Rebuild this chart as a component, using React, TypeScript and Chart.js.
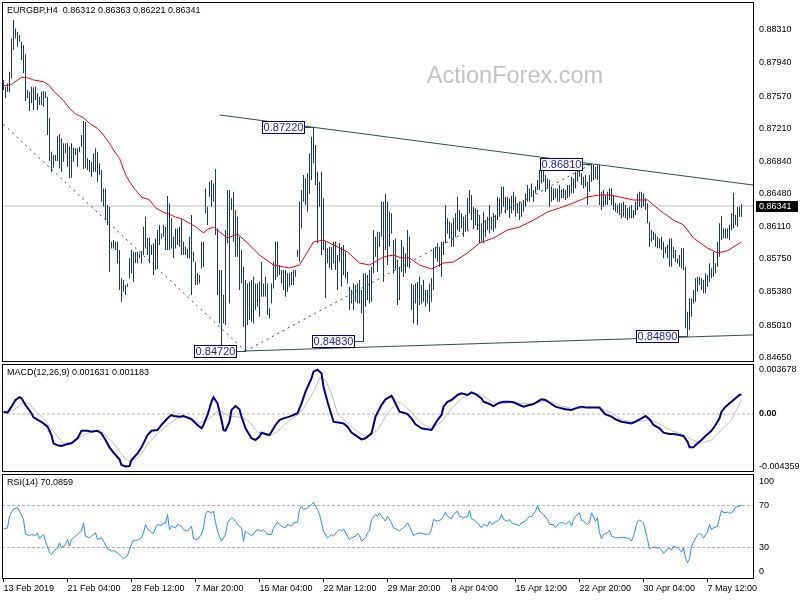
import React, { useEffect, useRef } from "react";
import { Chart, registerables } from "chart.js";

Chart.register(...registerables);

const FONT = '"Liberation Sans", Arial, Helvetica, sans-serif';

// ---------------- data ----------------
const symbolTitle = "EURGBP,H4  0.86312 0.86363 0.86221 0.86341";
const macdTitle = "MACD(12,26,9) 0.001631 0.001183";
const rsiTitle = "RSI(14) 70.0859";
const watermarkText = "ActionForex.com";
const lastPrice = 0.86341;

const highs = [
  0.8775, 0.87675, 0.87712, 0.87843, 0.88215, 0.8842, 0.88327, 0.8829, 0.88253, 0.88178,
  0.88141, 0.88037, 0.87638, 0.87619, 0.87675, 0.87667, 0.87675, 0.87601, 0.87563, 0.87619,
  0.87627, 0.87619, 0.87563, 0.87321, 0.86948, 0.86912, 0.86912, 0.87127, 0.87142, 0.87097,
  0.87042, 0.87042, 0.87042, 0.87004, 0.87042, 0.86993, 0.86986, 0.86986, 0.87004, 0.87135,
  0.87291, 0.87284, 0.86874, 0.86856, 0.86837, 0.8693, 0.86986, 0.86948, 0.86818, 0.86743,
  0.86538, 0.86538, 0.86352, 0.86333, 0.85942, 0.85961, 0.85942, 0.85942, 0.85849, 0.85532,
  0.85513, 0.85457, 0.85476, 0.85756, 0.85849, 0.8583, 0.85823, 0.8583, 0.85811, 0.85837,
  0.8611, 0.86222, 0.85987, 0.85987, 0.85904, 0.85923, 0.85979, 0.86073, 0.86129, 0.86035,
  0.86129, 0.8611, 0.86452, 0.86371, 0.86203, 0.85998, 0.86091, 0.86091, 0.8611, 0.86196,
  0.85942, 0.85886, 0.85867, 0.85998, 0.8624, 0.8583, 0.85719, 0.85588, 0.8557, 0.85942,
  0.85942, 0.86538, 0.86333, 0.86613, 0.86632, 0.86594, 0.86751, 0.86091, 0.85625, 0.85625,
  0.85346, 0.86072, 0.8652, 0.8652, 0.86427, 0.86501, 0.86296, 0.86222, 0.85998, 0.85849,
  0.85663, 0.85514, 0.85476, 0.85495, 0.85514, 0.85551, 0.85476, 0.85476, 0.85495, 0.85719,
  0.85476, 0.85551, 0.85476, 0.85197, 0.85476, 0.85719, 0.85942, 0.85942, 0.85681, 0.85625,
  0.85625, 0.85625, 0.85588, 0.85588, 0.85607, 0.85625, 0.85625, 0.85849, 0.86389, 0.8652,
  0.86688, 0.8665, 0.86706, 0.8693, 0.87116, 0.8722, 0.87023, 0.86725, 0.86613, 0.86725,
  0.86427, 0.85942, 0.85868, 0.85886, 0.85886, 0.85942, 0.85942, 0.85793, 0.85924, 0.85886,
  0.85905, 0.8583, 0.85607, 0.85439, 0.85402, 0.85476, 0.85458, 0.85476, 0.85514, 0.85402,
  0.85588, 0.85588, 0.8557, 0.85625, 0.85663, 0.86072, 0.85998, 0.86054, 0.86054, 0.86389,
  0.86389, 0.86482, 0.86389, 0.86277, 0.86259, 0.85961, 0.85979, 0.85737, 0.85663, 0.85961,
  0.85886, 0.85812, 0.86072, 0.85998, 0.85476, 0.85458, 0.85476, 0.85495, 0.85551, 0.85458,
  0.85514, 0.85402, 0.85402, 0.85476, 0.85532, 0.85868, 0.85886, 0.85924, 0.85886, 0.85942,
  0.85942, 0.86352, 0.86203, 0.86166, 0.86147, 0.86203, 0.86259, 0.86445, 0.86296, 0.86259,
  0.86222, 0.8624, 0.86427, 0.8652, 0.86464, 0.86333, 0.86315, 0.86296, 0.8624, 0.86147,
  0.86277, 0.86184, 0.86222, 0.86352, 0.86222, 0.86259, 0.8624, 0.86445, 0.86427, 0.86557,
  0.86557, 0.86445, 0.86445, 0.86427, 0.86453, 0.86501, 0.86445, 0.86371, 0.86389, 0.86371,
  0.86408, 0.86482, 0.86576, 0.86538, 0.86594, 0.8652, 0.86557, 0.86632, 0.86743, 0.8678,
  0.86762, 0.86688, 0.8665, 0.86632, 0.86557, 0.86538, 0.86538, 0.86538, 0.86576, 0.86527,
  0.86538, 0.8652, 0.86576, 0.86576, 0.86669, 0.8665, 0.86725, 0.86762, 0.86799, 0.86706,
  0.86669, 0.86688, 0.86613, 0.86688, 0.8681, 0.86799, 0.86781, 0.86799, 0.868, 0.86501,
  0.8652, 0.86464, 0.86501, 0.86538, 0.86538, 0.86464, 0.86371, 0.86352, 0.86371, 0.86371,
  0.86389, 0.86352, 0.86315, 0.86333, 0.86352, 0.86296, 0.86389, 0.86482, 0.86501, 0.86501,
  0.86482, 0.86427, 0.86371, 0.86166, 0.86072, 0.86054, 0.86035, 0.85998, 0.85979, 0.85998,
  0.85942, 0.85886, 0.85905, 0.85979, 0.85979, 0.85886, 0.85849, 0.85756, 0.85793, 0.85868,
  0.85868, 0.85663, 0.85159, 0.85309, 0.85309, 0.85402, 0.85532, 0.85551, 0.85551, 0.85532,
  0.85514, 0.85588, 0.8557, 0.857, 0.85644, 0.8583, 0.857, 0.85942, 0.86147, 0.86229,
  0.86091, 0.86091, 0.86091, 0.86128, 0.86259, 0.8649, 0.8624, 0.86333, 0.86333, 0.86363,
];

const lows = [
  0.87638, 0.87545, 0.87619, 0.87612, 0.87768, 0.88085, 0.88215, 0.88122, 0.88178, 0.87973,
  0.87824, 0.87515, 0.87545, 0.87403, 0.87489, 0.87414, 0.87526, 0.87414, 0.8747, 0.8747,
  0.87451, 0.87545, 0.87135, 0.86844, 0.86725, 0.86769, 0.86848, 0.86844, 0.86762, 0.86725,
  0.86837, 0.8693, 0.86781, 0.8665, 0.86657, 0.86837, 0.86912, 0.86781, 0.86941, 0.87004,
  0.86755, 0.86762, 0.86743, 0.86725, 0.86669, 0.86725, 0.86725, 0.86613, 0.86687, 0.86389,
  0.86333, 0.86185, 0.86129, 0.85607, 0.85867, 0.85867, 0.85849, 0.857, 0.85402, 0.85271,
  0.85383, 0.85346, 0.85439, 0.85532, 0.85588, 0.85495, 0.857, 0.857, 0.85756, 0.857,
  0.85793, 0.85867, 0.85793, 0.857, 0.85793, 0.85569, 0.85625, 0.85644, 0.85904, 0.85979,
  0.85998, 0.85849, 0.85849, 0.85849, 0.85867, 0.85756, 0.85867, 0.85904, 0.85886, 0.85793,
  0.85793, 0.85793, 0.85756, 0.85756, 0.85346, 0.85719, 0.85458, 0.85458, 0.85476, 0.85644,
  0.85663, 0.86259, 0.86128, 0.86445, 0.86333, 0.86389, 0.86017, 0.85346, 0.85028, 0.84787,
  0.85028, 0.8501, 0.85924, 0.85252, 0.86296, 0.85942, 0.85775, 0.85775, 0.85402, 0.85476,
  0.84991, 0.8472, 0.8501, 0.85066, 0.85047, 0.85028, 0.85178, 0.85215, 0.85103, 0.85327,
  0.85327, 0.85327, 0.85122, 0.85085, 0.85252, 0.8542, 0.85514, 0.85551, 0.8557, 0.85476,
  0.85402, 0.85327, 0.85383, 0.85439, 0.85458, 0.85458, 0.85551, 0.85775, 0.85719, 0.86091,
  0.86389, 0.86352, 0.86277, 0.86482, 0.86632, 0.86818, 0.86576, 0.85924, 0.86333, 0.85793,
  0.85849, 0.85309, 0.857, 0.85644, 0.85625, 0.857, 0.85625, 0.85402, 0.85719, 0.85439,
  0.8557, 0.85532, 0.85476, 0.85178, 0.85252, 0.85178, 0.85271, 0.85252, 0.85252, 0.85141,
  0.8483, 0.85215, 0.8529, 0.85252, 0.85271, 0.85588, 0.85775, 0.85607, 0.85886, 0.85998,
  0.85495, 0.85849, 0.85681, 0.85886, 0.86035, 0.85588, 0.85625, 0.85234, 0.8529, 0.85607,
  0.85551, 0.85588, 0.85663, 0.85644, 0.85178, 0.85028, 0.85252, 0.8501, 0.85234, 0.85252,
  0.85271, 0.85215, 0.85252, 0.85159, 0.85271, 0.85402, 0.85756, 0.85719, 0.85663, 0.85551,
  0.85793, 0.85924, 0.86035, 0.85979, 0.85886, 0.85886, 0.85998, 0.86072, 0.86054, 0.86091,
  0.85998, 0.86054, 0.86072, 0.86259, 0.86184, 0.86091, 0.86128, 0.86072, 0.85924, 0.85942,
  0.85924, 0.85998, 0.86072, 0.86035, 0.86072, 0.86054, 0.86091, 0.86184, 0.86222, 0.86259,
  0.86333, 0.86259, 0.86296, 0.86203, 0.86259, 0.86296, 0.86222, 0.86259, 0.86184, 0.86222,
  0.86277, 0.86333, 0.86389, 0.86389, 0.86445, 0.86389, 0.86482, 0.8652, 0.8652, 0.86594,
  0.86613, 0.86501, 0.86538, 0.86333, 0.86389, 0.86408, 0.86427, 0.86389, 0.86389, 0.86427,
  0.86427, 0.86408, 0.86427, 0.86445, 0.86482, 0.86482, 0.86538, 0.86613, 0.86669, 0.86576,
  0.86538, 0.86557, 0.86352, 0.86501, 0.86613, 0.86632, 0.8665, 0.86632, 0.86352, 0.86296,
  0.86333, 0.86352, 0.86352, 0.86408, 0.86352, 0.86296, 0.86277, 0.86259, 0.8624, 0.86203,
  0.86222, 0.86203, 0.86184, 0.86203, 0.86203, 0.86203, 0.8624, 0.86296, 0.86333, 0.86315,
  0.86333, 0.86296, 0.86147, 0.85886, 0.85942, 0.85961, 0.85886, 0.85868, 0.85868, 0.85849,
  0.85756, 0.85812, 0.85756, 0.85663, 0.85663, 0.85756, 0.85719, 0.857, 0.85663, 0.85644,
  0.85625, 0.84973, 0.8489, 0.84955, 0.85103, 0.85252, 0.85271, 0.85383, 0.85458, 0.85402,
  0.85365, 0.85365, 0.85439, 0.85495, 0.85532, 0.85551, 0.85588, 0.85663, 0.85775, 0.85961,
  0.85979, 0.85979, 0.85979, 0.85961, 0.86072, 0.86091, 0.86128, 0.8611, 0.86222, 0.86221,
];

// moving average (red)
const maIdx = [0, 4, 9, 12, 15, 20, 23, 25, 30, 33, 36, 40, 43, 47, 50, 53, 55, 58, 61, 63, 66, 69, 73, 76, 80, 83, 86, 89, 93, 96, 100, 102, 105, 108, 111, 112, 117, 122, 128, 135, 143, 148, 155, 160, 165, 172, 178, 183, 190, 195, 199, 203, 208, 214, 220, 225, 232, 238, 245, 252, 258, 265, 272, 278, 285, 292, 298, 303, 308, 315, 322, 328, 335, 340, 345, 352, 357, 362, 369];
const maVal = [0.87682, 0.87701, 0.8778, 0.87776, 0.8775, 0.87731, 0.87686, 0.87627, 0.87519, 0.87433, 0.8737, 0.87328, 0.87265, 0.87209, 0.87135, 0.87042, 0.86967, 0.86874, 0.86694, 0.86613, 0.8652, 0.86442, 0.86408, 0.86322, 0.8627, 0.86248, 0.86218, 0.86199, 0.86147, 0.8611, 0.86039, 0.8608, 0.86106, 0.86054, 0.85998, 0.85983, 0.86028, 0.85927, 0.85793, 0.85681, 0.85648, 0.85681, 0.85939, 0.85961, 0.85905, 0.85827, 0.85704, 0.85681, 0.85771, 0.85793, 0.8576, 0.8576, 0.85681, 0.85637, 0.85704, 0.85715, 0.85816, 0.85927, 0.85983, 0.86073, 0.86106, 0.86184, 0.86274, 0.86319, 0.86375, 0.86442, 0.86464, 0.86464, 0.86442, 0.86408, 0.86408, 0.86296, 0.86184, 0.86129, 0.85983, 0.85871, 0.85816, 0.85842, 0.85939];

// MACD main line
const macdIdx = [0, 2, 4, 6, 8, 9, 11, 14, 15, 18, 20, 22, 24, 25, 27, 29, 32, 34, 37, 39, 42, 44, 47, 49, 51, 53, 55, 58, 59, 61, 63, 64, 67, 69, 72, 74, 77, 79, 82, 84, 85, 88, 90, 93, 94, 97, 99, 100, 102, 104, 105, 107, 109, 110, 111, 113, 114, 116, 118, 119, 121, 123, 124, 126, 128, 129, 131, 133, 134, 136, 138, 140, 143, 145, 147, 149, 151, 154, 155, 157, 159, 160, 162, 164, 165, 168, 170, 172, 174, 177, 179, 181, 184, 186, 189, 191, 194, 195, 198, 200, 202, 204, 206, 209, 211, 214, 215, 217, 219, 220, 222, 224, 227, 229, 232, 234, 236, 239, 240, 243, 245, 248, 250, 253, 255, 258, 260, 263, 265, 267, 269, 271, 274, 276, 279, 281, 284, 286, 289, 292, 295, 298, 299, 301, 304, 306, 309, 312, 314, 316, 319, 321, 323, 325, 328, 330, 333, 335, 338, 340, 342, 343, 345, 347, 349, 351, 354, 356, 358, 359, 361, 364, 366, 368, 369];
const macdVal = [0.00019, 0.00011, 0.00061, 0.00116, 0.00139, 0.0013, 0.00075, 0.00006, -0.00028, -0.00058, -0.00078, -0.00105, -0.00175, -0.00244, -0.0026, -0.00266, -0.00249, -0.00244, -0.00202, -0.00139, -0.00139, -0.00147, -0.00139, -0.00161, -0.00216, -0.00277, -0.00321, -0.00377, -0.00424, -0.00436, -0.00432, -0.00382, -0.00327, -0.00277, -0.00175, -0.00139, -0.00133, -0.00091, -0.00036, -0.00008, -0.00017, -0.00022, -0.00017, -0.00036, -0.00044, -0.00091, -0.00119, -0.00091, -0.00008, 0.00102, 0.00139, 0.00089, -0.0005, -0.00133, -0.00139, -0.00064, 0.00033, 0.00066, 0.00039, -0.00022, -0.00119, -0.00175, -0.00202, -0.00216, -0.00188, -0.00155, -0.00166, -0.00175, -0.00147, -0.00091, -0.0005, -0.00036, -0.00022, -0.00008, 0.00006, 0.00089, 0.00186, 0.00296, 0.00352, 0.00368, 0.00338, 0.00227, 0.00102, -0.00008, -0.00064, -0.00072, -0.00078, -0.00105, -0.00155, -0.00188, -0.00211, -0.00202, -0.00161, -0.00022, 0.00075, 0.00122, 0.0015, 0.00122, 0.00019, 0.00011, 0, -0.00036, -0.00086, -0.00119, -0.00125, -0.00133, -0.00105, -0.0005, -0.00008, 0.00061, 0.00102, 0.00116, 0.00158, 0.00172, 0.00158, 0.0018, 0.00166, 0.0013, 0.00102, 0.00083, 0.00066, 0.00094, 0.00102, 0.00102, 0.00097, 0.00075, 0.00061, 0.00075, 0.00083, 0.00102, 0.00122, 0.00116, 0.00083, 0.00061, 0.00047, 0.00039, 0.00033, 0.00047, 0.00061, 0.00053, 0.00055, 0.00055, 0.00033, -0.00003, -0.00022, -0.00044, -0.00064, -0.00072, -0.00078, -0.00064, -0.00036, -0.00017, -0.00044, -0.00091, -0.00119, -0.00155, -0.00166, -0.00166, -0.00175, -0.00183, -0.0023, -0.00277, -0.00277, -0.00244, -0.00216, -0.00183, -0.00139, -0.00091, -0.00036, 0.00019, 0.00061, 0.00102, 0.0013, 0.00158, 0.00163];

// MACD signal line
const signalIdx = [0, 5, 10, 13, 15, 20, 25, 30, 35, 40, 45, 50, 55, 60, 63, 68, 73, 78, 83, 88, 93, 98, 103, 108, 113, 117, 122, 127, 132, 137, 142, 147, 150, 155, 158, 161, 164, 167, 172, 177, 182, 187, 192, 197, 199, 204, 209, 214, 219, 224, 229, 234, 239, 244, 249, 254, 259, 264, 269, 274, 279, 284, 289, 294, 299, 304, 309, 314, 319, 324, 329, 334, 339, 344, 349, 354, 359, 364, 369];
const signalVal = [0.00006, 0.00033, 0.00094, 0.00089, 0.00039, -0.00036, -0.00147, -0.00244, -0.0023, -0.00175, -0.00139, -0.00155, -0.00244, -0.00355, -0.00396, -0.00355, -0.0023, -0.00147, -0.00078, -0.00028, -0.00022, -0.00078, -0.00036, 0.00033, -0.00022, -0.00022, -0.0005, -0.00147, -0.00183, -0.00147, -0.00064, -0.00008, 0.00047, 0.00186, 0.00296, 0.00283, 0.00172, 0.00006, -0.00078, -0.00147, -0.00194, -0.00133, 0.00006, 0.00102, 0.00089, 0.00019, -0.00078, -0.00119, -0.00064, 0.00047, 0.0013, 0.00172, 0.00158, 0.00102, 0.00083, 0.00094, 0.00089, 0.00083, 0.00102, 0.00102, 0.00066, 0.00047, 0.00047, 0.00055, 0.00047, 0.00011, -0.00044, -0.00064, -0.00058, -0.0005, -0.00091, -0.00139, -0.00166, -0.00211, -0.00244, -0.00216, -0.00133, -0.0005, 0.00118];

// RSI(14)
const rsiIdx = [0, 2, 3, 5, 7, 8, 10, 11, 13, 14, 16, 17, 18, 20, 21, 23, 24, 25, 27, 28, 29, 31, 32, 33, 34, 36, 37, 39, 40, 41, 43, 44, 46, 47, 49, 50, 52, 54, 55, 57, 59, 60, 62, 63, 64, 65, 67, 69, 70, 71, 72, 74, 75, 76, 77, 79, 80, 81, 82, 83, 84, 86, 87, 89, 90, 92, 94, 95, 97, 99, 100, 101, 102, 104, 105, 106, 107, 109, 110, 111, 112, 114, 115, 116, 117, 119, 120, 121, 122, 124, 125, 126, 127, 129, 130, 132, 134, 135, 137, 138, 139, 141, 142, 144, 145, 147, 148, 149, 150, 152, 153, 154, 155, 157, 158, 159, 160, 162, 163, 164, 165, 167, 168, 169, 170, 172, 173, 174, 176, 177, 178, 179, 181, 182, 183, 184, 186, 187, 188, 189, 191, 192, 193, 194, 195, 197, 198, 199, 200, 202, 203, 205, 206, 208, 210, 212, 213, 214, 215, 217, 219, 220, 221, 222, 224, 225, 227, 228, 230, 232, 233, 234, 235, 237, 239, 240, 242, 243, 244, 246, 248, 249, 250, 252, 253, 254, 256, 258, 259, 261, 263, 264, 266, 267, 268, 270, 272, 273, 275, 276, 278, 280, 281, 283, 284, 285, 286, 288, 289, 290, 292, 293, 294, 296, 297, 298, 299, 300, 302, 303, 304, 306, 308, 309, 311, 313, 314, 315, 317, 318, 319, 320, 322, 323, 324, 325, 327, 328, 329, 330, 332, 333, 334, 335, 337, 338, 339, 340, 341, 342, 343, 344, 345, 347, 348, 349, 350, 352, 353, 354, 355, 357, 358, 359, 360, 362, 363, 365, 366, 367, 368, 369];
const rsiVal = [47.8, 48.7, 59.8, 66.8, 67.8, 64.6, 56.7, 42.4, 41.4, 42.4, 41.4, 44.0, 38.3, 42.4, 36.0, 24.9, 23.3, 26.5, 29.7, 34.4, 29.7, 32.9, 37.6, 31.3, 37.6, 40.8, 42.4, 45.6, 53.5, 40.8, 39.2, 40.8, 44.0, 37.6, 39.2, 36.0, 28.7, 26.5, 27.1, 24.9, 21.1, 19.2, 22.4, 28.1, 32.9, 37.0, 37.0, 39.2, 44.0, 51.9, 47.8, 44.0, 43.3, 48.7, 51.9, 51.0, 53.5, 52.9, 61.4, 47.1, 50.3, 48.7, 51.9, 50.3, 47.1, 45.6, 50.3, 38.3, 37.6, 42.4, 48.7, 61.4, 64.6, 63.0, 64.6, 54.1, 45.6, 36.0, 39.2, 42.4, 53.5, 58.3, 57.3, 55.1, 51.9, 48.7, 36.0, 45.6, 44.0, 41.4, 42.4, 45.6, 47.1, 45.6, 47.1, 42.4, 42.4, 48.7, 54.1, 51.9, 50.3, 48.7, 51.9, 50.3, 53.5, 54.1, 66.2, 69.4, 66.2, 67.8, 69.4, 70.9, 73.2, 66.2, 61.4, 53.5, 45.6, 39.2, 40.8, 42.4, 40.8, 45.6, 47.1, 45.6, 47.8, 40.8, 37.6, 39.2, 40.8, 43.3, 41.4, 36.0, 39.2, 44.0, 45.6, 56.7, 61.4, 59.8, 63.0, 59.8, 55.1, 59.8, 56.7, 53.5, 48.7, 47.1, 45.6, 47.8, 48.7, 53.5, 50.3, 41.4, 42.4, 44.0, 43.0, 42.4, 43.0, 47.1, 56.7, 55.1, 56.7, 59.8, 63.7, 59.8, 57.3, 61.4, 64.6, 59.8, 58.3, 59.8, 65.2, 57.3, 56.7, 53.5, 48.7, 51.9, 50.3, 55.1, 51.9, 54.1, 56.7, 61.4, 56.7, 55.1, 56.7, 53.5, 51.9, 51.0, 53.5, 55.1, 59.8, 59.2, 64.6, 70.0, 64.6, 61.4, 56.7, 51.9, 51.9, 48.7, 53.5, 53.5, 51.9, 55.1, 50.3, 56.7, 59.8, 63.0, 55.7, 55.1, 51.9, 53.5, 63.0, 55.1, 58.3, 44.0, 38.3, 42.4, 44.0, 46.5, 40.8, 39.2, 39.2, 39.8, 39.2, 38.6, 36.0, 40.8, 55.1, 56.0, 55.1, 53.5, 37.6, 28.7, 29.7, 30.6, 29.4, 29.7, 27.5, 24.3, 28.7, 29.7, 27.5, 31.3, 29.7, 28.1, 25.6, 29.7, 20.1, 15.4, 19.2, 31.3, 35.1, 42.4, 43.3, 42.4, 39.2, 44.6, 51.9, 47.1, 48.7, 50.3, 58.3, 65.5, 63.0, 63.7, 62.4, 64.6, 68.7, 68.7, 69.4, 70.1];

// axes
const priceTicks = [0.8831, 0.8794, 0.8757, 0.8721, 0.8684, 0.8648, 0.8611, 0.8575, 0.8538, 0.8501, 0.8465];
const macdTicks = [0.003678, 0, -0.004359];
const rsiTicks = [0, 30, 70, 100];
const rsiLevels = [30, 70];
const macdLevels = [0];
const xTickIdx = [0, 32, 64, 96, 128, 160, 192, 224, 256, 288, 320, 352];
const xTickLabels = ["13 Feb 2019", "21 Feb 04:00", "28 Feb 12:00", "7 Mar 20:00", "15 Mar 04:00", "22 Mar 12:00", "29 Mar 20:00", "8 Apr 04:00", "15 Apr 12:00", "22 Apr 20:00", "30 Apr 04:00", "7 May 12:00"];

// drawn lines (bar index, price)
const resistanceLine = [[108, 0.87359], [375, 0.86575]];
const supportLine = [[121, 0.8472], [375, 0.849]];
const fallingDashLine = [[0, 0.87254], [121, 0.8472]];
const risingDashLine = [[121, 0.8472], [294, 0.8681]];

// swing callouts
const calloutIdx = [155, 121, 180, 294, 342];
const calloutVal = [0.8722, 0.8472, 0.8483, 0.8681, 0.8489];

// ---------------- helpers ----------------
const X_MIN = -0.75;
const X_MAX = 375.25;
const PRICE_MIN = 0.84597;
const PRICE_MAX = 0.88622;
const MACD_MIN = -0.00482;
const MACD_MAX = 0.004155;
const AXIS_W = 46;

const pts = (idx: number[], val: number[]) => idx.map((x, i) => ({ x, y: val[i] }));
const seg = (p: number[][]) => p.map(([x, y]) => ({ x, y }));
const hline = (v: number) => [{ x: X_MIN, y: v }, { x: X_MAX, y: v }];

const lineDs = (data: any[], color: string, width = 1, dash: number[] = [], order = 0) => ({
  type: "line",
  data,
  borderColor: color,
  borderWidth: width,
  borderDash: dash,
  pointRadius: 0,
  tension: 0,
  fill: false,
  order,
});

const hiddenX = () => ({ type: "linear", min: X_MIN, max: X_MAX, display: false, offset: false });

const rightY = (min: number, max: number, ticks: number[], fmt: any, font: any) => ({
  type: "linear",
  position: "right",
  min,
  max,
  beginAtZero: false,
  afterBuildTicks: (s: any) => {
    s.ticks = ticks.map((v) => ({ value: v }));
  },
  afterFit: (s: any) => {
    s.width = AXIS_W;
    s.paddingTop = 0;
    s.paddingBottom = 0;
  },
  grid: { display: false, drawTicks: false, drawOnChartArea: false },
  border: { display: false },
  ticks: { padding: 5, color: "#000", font, callback: fmt, autoSkip: false },
});

const frame = (chart: any) => {
  const { ctx, chartArea: a } = chart;
  ctx.save();
  ctx.strokeStyle = "#000";
  ctx.lineWidth = 1;
  ctx.strokeRect(a.left + 0.5, a.top + 0.5, a.right - a.left - 1, a.bottom - a.top - 1);
  ctx.restore();
};

const title = (chart: any, text: string) => {
  const { ctx, chartArea: a } = chart;
  ctx.save();
  ctx.fillStyle = "#000";
  ctx.font = `9px ${FONT}`;
  ctx.textAlign = "left";
  ctx.textBaseline = "middle";
  ctx.fillText(text, a.left + 5, a.top + 9);
  ctx.restore();
};

const baseOpts = {
  animation: false,
  responsive: false,
  maintainAspectRatio: false,
  events: [],
  plugins: { legend: { display: false }, tooltip: { enabled: false } },
};

function priceConfig(): any {
  const bars = highs.map((h, i) => ({ x: i, y: [lows[i], h] }));
  return {
    type: "bar",
    data: {
      datasets: [
        lineDs(hline(lastPrice), "#c0c0c0", 1, [], 10),
        {
          type: "bar",
          data: bars,
          backgroundColor: "#173f5c",
          borderWidth: 0,
          barThickness: 1,
          inflateAmount: 0,
          grouped: false,
          order: 5,
        },
        lineDs(pts(maIdx, maVal), "#ff0000", 1, [], 2),
        lineDs(seg(resistanceLine), "#2f4f4f", 1, [], 1),
        lineDs(seg(supportLine), "#2f4f4f", 1, [], 1),
        lineDs(seg(fallingDashLine), "#2f4f4f", 1, [2, 4], 1),
        lineDs(seg(risingDashLine), "#2f4f4f", 1, [2, 4], 1),
      ],
    },
    options: {
      ...baseOpts,
      layout: { padding: { left: 2, top: 2, right: 0, bottom: 2 }, autoPadding: false },
      scales: {
        x: hiddenX(),
        y: rightY(PRICE_MIN, PRICE_MAX, priceTicks, (v: number) => v.toFixed(5), { family: FONT, size: 9 }),
      },
    },
    plugins: [
      {
        id: "priceDecor",
        beforeDatasetsDraw(chart: any) {
          const { ctx } = chart;
          ctx.save();
          ctx.fillStyle = "#c3c3c3";
          ctx.font = `23.5px ${FONT}`;
          ctx.textAlign = "center";
          ctx.textBaseline = "alphabetic";
          const xs = chart.scales.x;
          const cx = (xs.getPixelForValue(X_MIN) + xs.getPixelForValue(X_MAX)) / 2 + 137;
          ctx.fillText(watermarkText, cx, 83);
          ctx.restore();
        },
        afterDatasetsDraw(chart: any) {
          const { ctx } = chart;
          const xs = chart.scales.x;
          const ys = chart.scales.y;
          frame(chart);
          // callouts
          ctx.save();
          calloutIdx.forEach((idx, k) => {
            const v = calloutVal[k];
            const px = Math.round(xs.getPixelForValue(idx));
            const py = Math.round(ys.getPixelForValue(v));
            const right = px - 9;
            const left = right - 43;
            ctx.strokeStyle = "#2f4f4f";
            ctx.lineWidth = 1;
            ctx.beginPath();
            ctx.moveTo(right, py + 0.5);
            ctx.lineTo(px, py + 0.5);
            ctx.stroke();
            ctx.fillStyle = "#ffffff";
            ctx.fillRect(left, py - 6, 43, 13);
            ctx.strokeStyle = "#000080";
            ctx.strokeRect(left + 0.5, py - 5.5, 42, 12);
            ctx.fillStyle = "#2323b0";
            ctx.font = `11px ${FONT}`;
            ctx.textAlign = "center";
            ctx.textBaseline = "middle";
            ctx.fillText(v.toFixed(5), left + 21.5, py + 1);
          });
          // last price tag
          const ly = Math.round(ys.getPixelForValue(lastPrice));
          ctx.fillStyle = "#000";
          ctx.fillRect(chart.chartArea.right + 2, ly - 5, 42, 11);
          ctx.fillStyle = "#fff";
          ctx.font = `9px ${FONT}`;
          ctx.textAlign = "left";
          ctx.textBaseline = "middle";
          ctx.fillText(lastPrice.toFixed(5), chart.chartArea.right + 5, ly + 0.5);
          ctx.restore();
          title(chart, symbolTitle);
        },
      },
    ],
  };
}

function macdConfig(): any {
  return {
    type: "line",
    data: {
      datasets: [
        lineDs(hline(macdLevels[0]), "#b4b4b4", 1, [3, 2], 10),
        lineDs(pts(signalIdx, signalVal), "#c0c0c0", 1, [], 3),
        lineDs(pts(macdIdx, macdVal), "#000080", 2, [], 1),
      ],
    },
    options: {
      ...baseOpts,
      layout: { padding: { left: 2, top: 1, right: 0, bottom: 1 }, autoPadding: false },
      scales: {
        x: hiddenX(),
        y: rightY(
          MACD_MIN,
          MACD_MAX,
          macdTicks,
          (v: number) => (v === 0 ? "0.00" : v.toFixed(6)),
          (ctx: any) => ({ family: FONT, size: 9, weight: ctx.tick && ctx.tick.value === 0 ? "bold" : "normal" })
        ),
      },
    },
    plugins: [
      {
        id: "macdDecor",
        afterDatasetsDraw(chart: any) {
          frame(chart);
          title(chart, macdTitle);
        },
      },
    ],
  };
}

function rsiConfig(): any {
  return {
    type: "line",
    data: {
      datasets: [
        ...rsiLevels.map((v) => lineDs(hline(v), "#b4b4b4", 1, [3, 2], 10)),
        lineDs(pts(rsiIdx, rsiVal), "#1e90ff", 1, [], 1),
      ],
    },
    options: {
      ...baseOpts,
      layout: { padding: { left: 2, top: 1, right: 0, bottom: 0 }, autoPadding: false },
      scales: {
        x: {
          type: "linear",
          position: "bottom",
          min: X_MIN,
          max: X_MAX,
          offset: false,
          afterBuildTicks: (s: any) => {
            s.ticks = xTickIdx.map((v) => ({ value: v }));
          },
          afterFit: (s: any) => {
            s.height = 21;
            s.paddingLeft = 0;
            s.paddingRight = 0;
          },
          grid: { display: true, drawOnChartArea: false, drawTicks: true, tickLength: 3, color: "#000" },
          border: { display: false },
          ticks: {
            align: "start",
            padding: 1,
            maxRotation: 0,
            minRotation: 0,
            autoSkip: false,
            color: "#000",
            font: { family: FONT, size: 9 },
            callback: (_v: number, i: number) => xTickLabels[i],
          },
        },
        y: rightY(
          0,
          100,
          rsiTicks,
          (v: number) => (v === 100 ? ["", "100"] : v === 0 ? ["0", ""] : String(v)),
          { family: FONT, size: 9, lineHeight: "15px" }
        ),
      },
    },
    plugins: [
      {
        id: "rsiDecor",
        afterDatasetsDraw(chart: any) {
          frame(chart);
          title(chart, rsiTitle);
        },
      },
    ],
  };
}

export default function App() {
  const priceRef = useRef<HTMLCanvasElement>(null);
  const macdRef = useRef<HTMLCanvasElement>(null);
  const rsiRef = useRef<HTMLCanvasElement>(null);

  useEffect(() => {
    const charts = [
      new Chart(priceRef.current as HTMLCanvasElement, priceConfig()),
      new Chart(macdRef.current as HTMLCanvasElement, macdConfig()),
      new Chart(rsiRef.current as HTMLCanvasElement, rsiConfig()),
    ];
    return () => charts.forEach((c) => c.destroy());
  }, []);

  return (
    <div
      style={{
        position: "absolute",
        left: 0,
        top: 0,
        width: 800,
        height: 600,
        background: "#ffffff",
        overflow: "hidden",
      }}
    >
      <canvas ref={priceRef} width={800} height={364} style={{ position: "absolute", left: 0, top: 0 }} />
      <canvas ref={macdRef} width={800} height={110} style={{ position: "absolute", left: 0, top: 363 }} />
      <canvas ref={rsiRef} width={800} height={127} style={{ position: "absolute", left: 0, top: 473 }} />
    </div>
  );
}
